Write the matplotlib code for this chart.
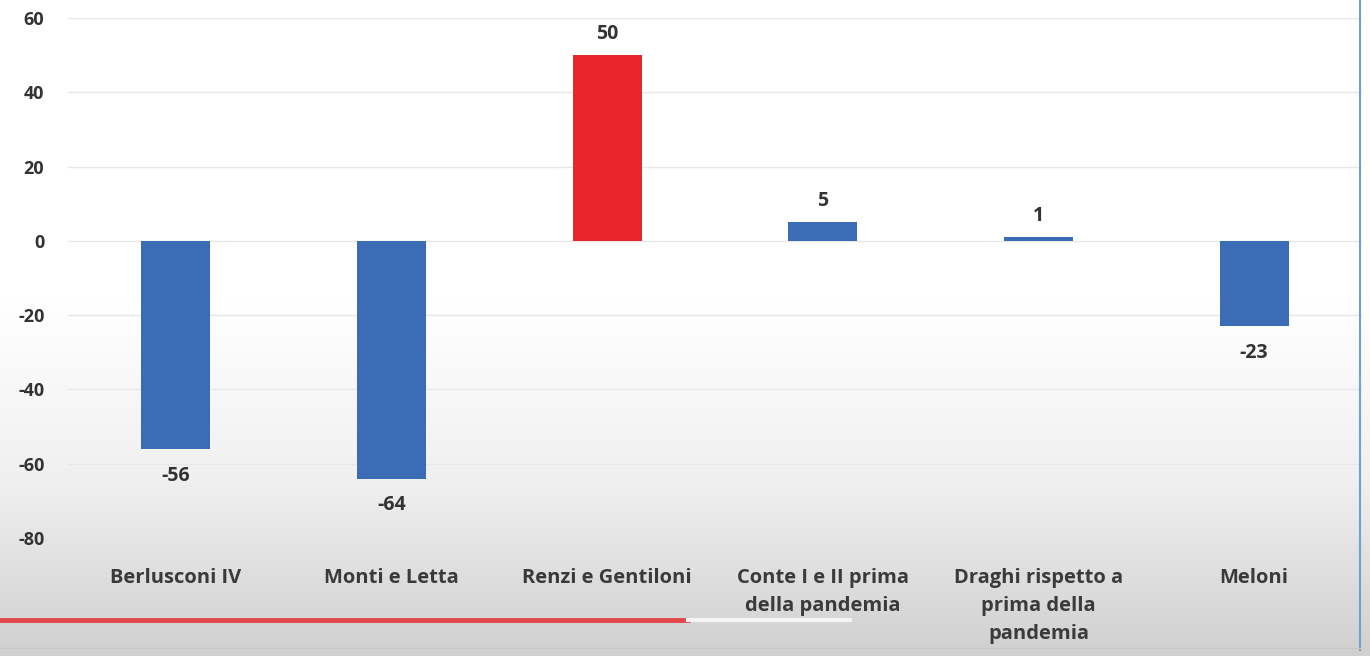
import numpy as np
import matplotlib.pyplot as plt
from matplotlib.colors import LinearSegmentedColormap
from matplotlib.lines import Line2D

governi = ["Berlusconi IV", "Monti e Letta", "Renzi e Gentiloni",
           "Conte I e II prima\ndella pandemia",
           "Draghi rispetto a\nprima della\npandemia", "Meloni"]
valori = [-56, -64, 50, 5, 1, -23]
colori = ["#3a6db5", "#3a6db5", "#e8262c", "#3a6db5", "#3a6db5", "#3a6db5"]
yticks = [-80, -60, -40, -20, 0, 20, 40, 60]

plt.rcParams['font.family'] = ['Open Sans', 'DejaVu Sans']

fig = plt.figure(figsize=(13.7, 6.56), dpi=100)

# background gradient (white on top, light grey at the bottom)
bg = fig.add_axes([0, 0, 1, 1], zorder=-10)
grad = np.concatenate([np.zeros(300), np.linspace(0, 1, 356)])[:, None]
cmap = LinearSegmentedColormap.from_list("bg", ["#ffffff", "#f0f0f0", "#d0d0d0"])
bg.imshow(grad, aspect="auto", cmap=cmap, extent=[0, 1, 0, 1], origin="upper")
bg.set_xlim(0, 1)
bg.set_ylim(0, 1)
bg.axis("off")

ax = fig.add_axes([68 / 1370, 1 - 538 / 656, (1362 - 68) / 1370, (538 - 18) / 656])
ax.patch.set_alpha(0)
x = np.arange(len(governi))
ax.bar(x, valori, width=0.32, color=colori, zorder=3)
ax.set_xlim(-0.5, len(governi) - 0.5)
ax.set_ylim(-80, 60)
ax.set_yticks(yticks)
ax.set_yticklabels([str(v) for v in yticks], fontsize=13, fontweight="bold", color="#333333")
ax.set_xticks([])
ax.tick_params(axis="y", length=0, pad=17)
for s in ax.spines.values():
    s.set_visible(False)
ax.grid(axis="y", color="#e8e8e8", linewidth=1, zorder=0)

for xi, v in zip(x, valori):
    off = 3 if v >= 0 else -4.5
    ax.text(xi, v + off, str(v), ha="center", va="bottom" if v >= 0 else "top",
            fontsize=14, fontweight="bold", color="#333333")

for xi, lab in zip(x, governi):
    ax.text(xi, -88, lab, ha="center", va="top", fontsize=14.5, fontweight="bold",
            color="#3a3a3a", linespacing=1.55)

# decorative lines of the screenshot
fig.add_artist(Line2D([0, 688 / 1370], [1 - 620 / 656] * 2, color="#e2474c", linewidth=3.5))
fig.add_artist(Line2D([688 / 1370, 850 / 1370], [1 - 620 / 656] * 2, color="#f4f4f4", linewidth=3))
fig.add_artist(Line2D([1360 / 1370] * 2, [1 - 650 / 656, 1], color="#6f9fd3", linewidth=1.5))
fig.add_artist(Line2D([0, 1360 / 1370], [1 - 648 / 656] * 2, color="#c8c8c8", linewidth=1))

fig.savefig("out.png", dpi=100)
